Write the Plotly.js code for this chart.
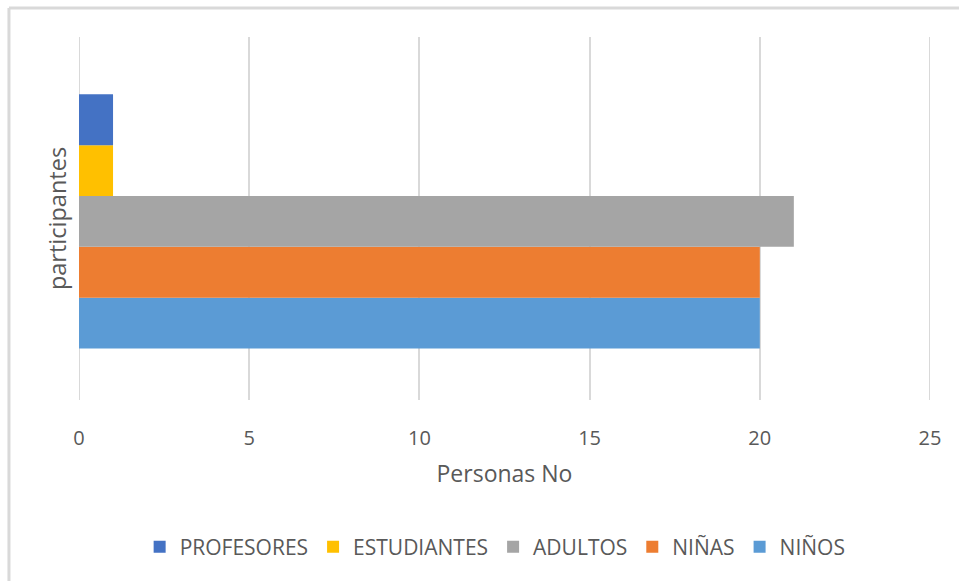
<!DOCTYPE html>
<html>
<head>
<meta charset="utf-8">
<script src="https://cdn.plot.ly/plotly-3.0.1.min.js"></script>
<style>html,body{margin:0;padding:0;background:#fff;}#chart{width:959px;height:581px;}</style>
</head>
<body>
<div id="chart"></div>
<script>
const category = ["participantes"];
const seriesNames = ["NIÑOS", "NIÑAS", "ADULTOS", "ESTUDIANTES", "PROFESORES"];
const seriesValues = [20, 20, 21, 1, 1];
const seriesColors = ["#5B9BD5", "#ED7D31", "#A5A5A5", "#FFC000", "#4472C4"];
const xTicks = [0, 5, 10, 15, 20, 25];

const font = "'Open Sans', 'Noto Sans', sans-serif";
const traces = seriesNames.map((name, i) => ({
  type: "bar",
  orientation: "h",
  name: name,
  y: category,
  x: [seriesValues[i]],
  marker: {color: seriesColors[i], line: {width: 0}},
  hoverinfo: "x+name"
}));

const edgeGrid = [xTicks[0], xTicks[xTicks.length - 1]].map(v => ({
  type: "line", xref: "x", yref: "paper", x0: v, x1: v, y0: 0, y1: 1, layer: "below",
  line: {color: "#d9d9d9", width: 2}
}));

const layout = {
  width: 959, height: 581,
  margin: {l: 79, r: 29, t: 37, b: 181},
  paper_bgcolor: "#fff", plot_bgcolor: "#fff",
  barmode: "group",
  bargap: 0.3,
  bargroupgap: 0,
  showlegend: true,
  font: {family: font, color: "#595959", size: 20},
  xaxis: {
    range: [xTicks[0], xTicks[xTicks.length - 1]],
    tickvals: xTicks,
    ticktext: xTicks.map(String),
    showgrid: true, gridcolor: "#d9d9d9", gridwidth: 2,
    zeroline: false, showline: false, ticks: "",
    ticklabelstandoff: 24,
    tickfont: {size: 20, color: "#595959", family: font},
    title: {text: "Personas No", font: {size: 23, color: "#595959", family: font}, standoff: 15},
    fixedrange: true
  },
  yaxis: {
    type: "category",
    range: [-0.492, 0.508],
    showticklabels: false, showgrid: false, zeroline: false, showline: false, ticks: "",
    title: {text: "participantes", font: {size: 23.5, color: "#595959", family: font}, standoff: 4},
    fixedrange: true
  },
  legend: {
    orientation: "h",
    traceorder: "reversed",
    x: 0.489, xanchor: "center",
    y: -0.405, yanchor: "middle",
    font: {size: 21, color: "#595959", family: font},
    itemwidth: 30
  },
  shapes: [
    {type: "line", xref: "paper", yref: "paper", x0: -0.0823, x1: 1.2, y0: 1.0799, y1: 1.0799, line: {color: "#d9d9d9", width: 3}},
    {type: "line", xref: "paper", yref: "paper", x0: -0.0823, x1: -0.0823, y0: -0.6, y1: 1.0799, line: {color: "#d9d9d9", width: 3}}
  ].concat(edgeGrid)
};

Plotly.newPlot("chart", traces, layout, {displayModeBar: false, staticPlot: true});
</script>
</body>
</html>
